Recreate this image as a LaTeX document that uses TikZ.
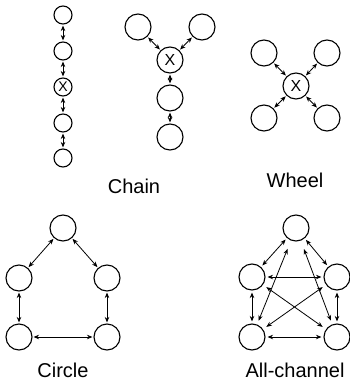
\documentclass[tikz,border=0pt]{standalone}
\usepackage{fontspec}
\setmainfont{Liberation Sans}
\usetikzlibrary{arrows.meta}
\begin{document}
\begin{tikzpicture}[x=1pt,y=-1pt,
  big/.style={circle,draw,line width=1.1pt,minimum size=26pt,inner sep=0pt,font=\fontsize{16}{16}\selectfont},
  small/.style={big,minimum size=18pt,font=\fontsize{14}{14}\selectfont},
  link/.style={{Stealth[length=5.5pt,width=4.5pt]}-{Stealth[length=5.5pt,width=4.5pt]},line width=0.8pt,shorten >=1pt,shorten <=1pt},
  far/.style={link,shorten >=4pt,shorten <=4pt},
  lab/.style={font=\fontsize{20}{20}\selectfont,anchor=base,inner sep=0pt}]
\useasboundingbox (0,0) rectangle (350,380);
% Chain (vertical)
\node[small] (a1) at (63,15) {};
\node[small] (a2) at (63,51) {};
\node[small] (a3) at (63,87) {X};
\node[small] (a4) at (63,123) {};
\node[small] (a5) at (63,158) {};
\foreach \p/\q in {a1/a2,a2/a3,a3/a4,a4/a5} \draw[link] (\p) -- (\q);
% Chain (Y)
\node[big] (b1) at (138,27) {};
\node[big] (b2) at (202,27) {};
\node[big] (bx) at (170,60) {X};
\node[big] (b3) at (170,98) {};
\node[big] (b4) at (170,137) {};
\foreach \p/\q in {b1/bx,b2/bx,bx/b3,b3/b4} \draw[link] (\p) -- (\q);
\node[lab] (chain) at (134,193) {Chain};
% Wheel
\node[big] (c1) at (264,53) {};
\node[big] (c2) at (327,53) {};
\node[big] (cx) at (296,86) {X};
\node[big] (c3) at (264,118) {};
\node[big] (c4) at (327,118) {};
\foreach \p in {c1,c2,c3,c4} \draw[link] (\p) -- (cx);
\node[lab] (wheel) at (295,187) {Wheel};
% Circle
\node[big] (d1) at (63,228) {};
\node[big] (d2) at (19,278) {};
\node[big] (d3) at (107,278) {};
\node[big] (d4) at (19,337) {};
\node[big] (d5) at (107,337) {};
\foreach \p/\q in {d1/d2,d1/d3,d2/d4,d3/d5,d4/d5} \draw[link] (\p) -- (\q);
\node[lab] (circ) at (63,377) {Circle};
% All-channel
\node[big] (e1) at (296,228) {};
\node[big] (e2) at (252,277) {};
\node[big] (e3) at (337,277) {};
\node[big] (e4) at (252,337) {};
\node[big] (e5) at (337,337) {};
\foreach \p/\q in {e1/e2,e1/e3,e2/e4,e3/e5,e4/e5,e2/e3} \draw[link,shorten >=2pt,shorten <=2pt] (\p) -- (\q);
\draw[far,shorten <=9pt] (e1) -- (e4);
\draw[far,shorten <=9pt] (e1) -- (e5);
\draw[far] (e2) -- (e5);
\draw[far] (e3) -- (e4);
\node[lab] (allc) at (295,377) {All-channel};
\end{tikzpicture}
\end{document}
